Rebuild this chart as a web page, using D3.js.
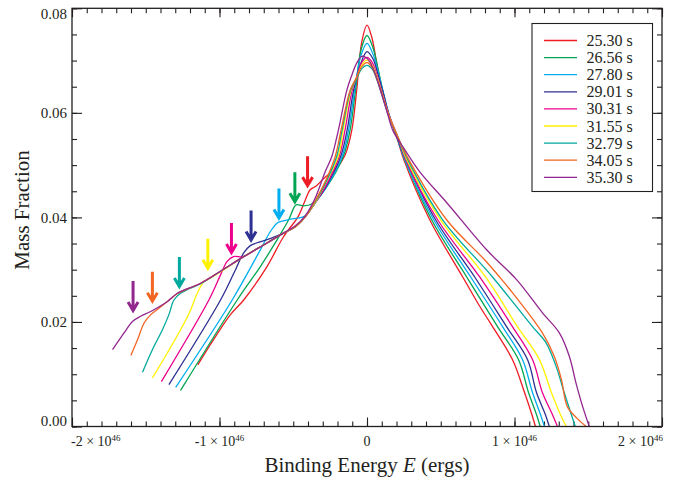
<!DOCTYPE html>
<html>
<head>
<meta charset="utf-8">
<script src="https://cdn.jsdelivr.net/npm/d3@7"></script>
<style>
body { margin: 0; background: #fff; }
text { font-family: "Liberation Serif", "Times New Roman", serif; fill: #231f20; }
</style>
</head>
<body>
<script>
// legend labels and colours, one per time snapshot
var times = ["25.30 s", "26.56 s", "27.80 s", "29.01 s", "30.31 s", "31.55 s", "32.79 s", "34.05 s", "35.30 s"];
var colors = ["#ed1c24", "#00a651", "#00aeef", "#2e3192", "#ec008c", "#fff200", "#00a99d", "#f26522", "#92278f"];

// [binding energy (1e46 ergs), mass fraction]
var s2530 = [[-1.147,0.0118],[-1.061,0.0157],[-0.926,0.0214],[-0.836,0.0242],[-0.678,0.0306],[-0.566,0.0363],[-0.466,0.0402],[-0.419,0.0433],[-0.385,0.0453],[-0.345,0.0460],[-0.284,0.0477],[-0.216,0.0491],[-0.149,0.0519],[-0.103,0.0567],[-0.070,0.0643],[-0.036,0.0735],[0,0.0768],[0.032,0.0745],[0.066,0.0695],[0.101,0.0647],[0.144,0.0601],[0.201,0.0554],[0.250,0.0510],[0.426,0.0395],[0.649,0.0286],[0.764,0.0230],[0.845,0.0194],[0.986,0.0128],[1.068,0.0065],[1.122,0.0019],[1.142,0]];
var s2656 = [[-1.264,0.0069],[-0.880,0.0242],[-0.723,0.0306],[-0.610,0.0357],[-0.532,0.0395],[-0.480,0.0424],[-0.432,0.0422],[-0.372,0.0426],[-0.284,0.0454],[-0.162,0.0516],[-0.115,0.0567],[-0.078,0.0643],[-0.041,0.0720],[0,0.0748],[0.041,0.0724],[0.071,0.0689],[0.105,0.0645],[0.145,0.0598],[0.203,0.0554],[0.257,0.0510],[0.439,0.0395],[0.676,0.0286],[0.885,0.0191],[1.027,0.0128],[1.095,0.0065],[1.149,0.0023],[1.174,0]];
var s2780 = [[-1.297,0.0075],[-0.914,0.0242],[-0.723,0.0338],[-0.655,0.0373],[-0.610,0.0389],[-0.574,0.0393],[-0.507,0.0397],[-0.419,0.0403],[-0.351,0.0428],[-0.284,0.0454],[-0.169,0.0516],[-0.125,0.0567],[-0.084,0.0643],[-0.041,0.0710],[0,0.0733],[0.041,0.0712],[0.074,0.0680],[0.108,0.0642],[0.149,0.0598],[0.203,0.0554],[0.257,0.0510],[0.453,0.0395],[0.703,0.0286],[0.919,0.0191],[1.054,0.0128],[1.122,0.0065],[1.176,0.0023],[1.203,0]];
var s2901 = [[-1.343,0.0080],[-0.993,0.0242],[-0.903,0.0293],[-0.836,0.0332],[-0.791,0.0346],[-0.750,0.0351],[-0.682,0.0357],[-0.566,0.0370],[-0.486,0.0382],[-0.419,0.0401],[-0.351,0.0428],[-0.284,0.0456],[-0.179,0.0516],[-0.135,0.0567],[-0.091,0.0643],[-0.044,0.0693],[0,0.0717],[0.041,0.0703],[0.074,0.0674],[0.108,0.0640],[0.149,0.0596],[0.203,0.0554],[0.264,0.0510],[0.466,0.0395],[0.730,0.0286],[0.946,0.0191],[1.088,0.0128],[1.149,0.0065],[1.209,0.0023],[1.236,0]];
var s3031 = [[-1.394,0.0086],[-1.072,0.0242],[-0.993,0.0290],[-0.948,0.0316],[-0.905,0.0325],[-0.838,0.0325],[-0.757,0.0338],[-0.678,0.0351],[-0.566,0.0370],[-0.486,0.0382],[-0.419,0.0401],[-0.351,0.0428],[-0.284,0.0458],[-0.189,0.0516],[-0.149,0.0567],[-0.101,0.0643],[-0.068,0.0670],[-0.034,0.0697],[0,0.0706],[0.034,0.0697],[0.068,0.0672],[0.101,0.0640],[0.149,0.0596],[0.209,0.0554],[0.264,0.0510],[0.480,0.0395],[0.764,0.0286],[0.986,0.0191],[1.122,0.0128],[1.189,0.0065],[1.257,0.0023],[1.291,0]];
var s3155 = [[-1.455,0.0093],[-1.353,0.0141],[-1.264,0.0185],[-1.196,0.0223],[-1.151,0.0255],[-1.106,0.0277],[-1.061,0.0284],[-0.993,0.0296],[-0.836,0.0325],[-0.678,0.0351],[-0.566,0.0370],[-0.486,0.0382],[-0.419,0.0401],[-0.351,0.0428],[-0.284,0.0464],[-0.196,0.0516],[-0.162,0.0567],[-0.108,0.0643],[-0.071,0.0666],[-0.034,0.0692],[0,0.0701],[0.034,0.0692],[0.068,0.0668],[0.101,0.0638],[0.149,0.0594],[0.209,0.0554],[0.270,0.0510],[0.500,0.0395],[0.804,0.0286],[1.020,0.0191],[1.169,0.0128],[1.250,0.0065],[1.311,0.0023],[1.351,0]];
var s3279 = [[-1.522,0.0104],[-1.455,0.0147],[-1.387,0.0185],[-1.343,0.0214],[-1.309,0.0242],[-1.264,0.0255],[-1.209,0.0263],[-1.128,0.0273],[-0.993,0.0297],[-0.836,0.0325],[-0.678,0.0351],[-0.566,0.0370],[-0.486,0.0382],[-0.419,0.0401],[-0.351,0.0430],[-0.284,0.0464],[-0.206,0.0516],[-0.169,0.0567],[-0.111,0.0643],[-0.074,0.0663],[-0.034,0.0685],[0,0.0691],[0.034,0.0684],[0.068,0.0663],[0.101,0.0634],[0.149,0.0592],[0.209,0.0554],[0.277,0.0510],[0.514,0.0395],[0.851,0.0286],[1.122,0.0191],[1.214,0.0160],[1.282,0.0115],[1.338,0.0064],[1.412,0]];
var s3405 = [[-1.601,0.0136],[-1.556,0.0166],[-1.511,0.0198],[-1.466,0.0214],[-1.426,0.0223],[-1.353,0.0239],[-1.286,0.0254],[-1.128,0.0274],[-0.993,0.0297],[-0.836,0.0325],[-0.678,0.0351],[-0.566,0.0370],[-0.486,0.0382],[-0.419,0.0401],[-0.351,0.0432],[-0.284,0.0468],[-0.216,0.0516],[-0.176,0.0567],[-0.115,0.0643],[-0.074,0.0666],[-0.034,0.0689],[0,0.0696],[0.034,0.0687],[0.068,0.0664],[0.101,0.0636],[0.149,0.0594],[0.209,0.0554],[0.284,0.0510],[0.541,0.0395],[0.797,0.0319],[0.899,0.0286],[0.986,0.0256],[1.189,0.0179],[1.270,0.0134],[1.318,0.0090],[1.358,0.0038],[1.426,0.0015],[1.486,0]];
var s3530 = [[-1.725,0.0147],[-1.647,0.0179],[-1.590,0.0201],[-1.534,0.0211],[-1.466,0.0220],[-1.353,0.0239],[-1.286,0.0255],[-1.128,0.0274],[-0.993,0.0297],[-0.836,0.0325],[-0.678,0.0351],[-0.566,0.0370],[-0.486,0.0384],[-0.419,0.0403],[-0.351,0.0437],[-0.284,0.0487],[-0.239,0.0516],[-0.194,0.0567],[-0.137,0.0643],[-0.103,0.0672],[-0.070,0.0695],[-0.036,0.0708],[-0.007,0.0706],[0.020,0.0697],[0.054,0.0676],[0.095,0.0640],[0.133,0.0605],[0.176,0.0566],[0.257,0.0529],[0.358,0.0487],[0.541,0.0428],[0.811,0.0338],[1.014,0.0281],[1.191,0.0217],[1.304,0.0179],[1.372,0.0134],[1.417,0.0083],[1.461,0.0039],[1.507,0]];
var series = [s2530, s2656, s2780, s2901, s3031, s3155, s3279, s3405, s3530];

// arrows: position of each tip (energy, mass fraction)
var arrowE = [-0.403, -0.489, -0.597, -0.786, -0.919, -1.079, -1.272, -1.455, -1.586];
var arrowM = [0.0456, 0.0425, 0.0394, 0.0352, 0.0328, 0.0298, 0.0263, 0.0235, 0.0217];

// tick labels
var xTickVals = [-2, -1, 0, 1, 2];
var xTickBase = ["-2 \u00d7 10", "-1 \u00d7 10", "0", "1 \u00d7 10", "2 \u00d7 10"];
var xTickExp = ["46", "46", "", "46", "46"];
var yTickVals = [0, 0.02, 0.04, 0.06, 0.08];

var W = 676, H = 477;
var pLeft = 72, pRight = 662, pTop = 8.3, pBottom = 426.5;

var svg = d3.select("body").append("svg")
  .attr("width", W)
  .attr("height", H);

var x = d3.scaleLinear().domain([-2, 2]).range([pLeft, pRight]);
var y = d3.scaleLinear().domain([0, 0.08]).range([pBottom, pTop]);

// minor/major ticks on all four sides, pointing inwards
var minorX = d3.range(-20, 21).map(function(d){ return d / 10; });
var minorY = d3.range(0, 17).map(function(d){ return d * 0.005; });

function ticks(g, axis){
  g.call(axis);
  g.select(".domain").remove();
  g.selectAll("line").attr("stroke", "#231f20").attr("stroke-width", 1.1);
}

svg.append("g").attr("transform", "translate(0," + pBottom + ")")
  .call(ticks, d3.axisBottom(x).tickValues(minorX).tickSize(-5).tickFormat(""));
svg.append("g").attr("transform", "translate(0," + pBottom + ")")
  .call(ticks, d3.axisBottom(x).tickValues(xTickVals).tickSize(-9).tickFormat(""));
svg.append("g").attr("transform", "translate(0," + pTop + ")")
  .call(ticks, d3.axisTop(x).tickValues(minorX).tickSize(-5).tickFormat(""));
svg.append("g").attr("transform", "translate(0," + pTop + ")")
  .call(ticks, d3.axisTop(x).tickValues(xTickVals).tickSize(-9).tickFormat(""));

svg.append("g").attr("transform", "translate(" + pLeft + ",0)")
  .call(ticks, d3.axisLeft(y).tickValues(minorY).tickSize(-5).tickFormat(""));
var yAxis = svg.append("g").attr("transform", "translate(" + pLeft + ",0)")
  .call(ticks, d3.axisLeft(y).tickValues(yTickVals).tickSize(-10).tickPadding(5).tickFormat(d3.format(".2f")));
yAxis.selectAll("text")
  .style("font-family", "'Liberation Serif', 'Times New Roman', serif")
  .style("font-size", "15px")
  .attr("fill", "#231f20")
  // end labels are nudged inside the frame
  .attr("dy", function(d, i){
    if(i == 0) return "-0.05em";
    if(i == yTickVals.length - 1) return "0.65em";
    return "0.32em";
  });
svg.append("g").attr("transform", "translate(" + pRight + ",0)")
  .call(ticks, d3.axisRight(y).tickValues(minorY).tickSize(-5).tickFormat(""));
svg.append("g").attr("transform", "translate(" + pRight + ",0)")
  .call(ticks, d3.axisRight(y).tickValues(yTickVals).tickSize(-10).tickFormat(""));

// x tick labels with superscript exponent
var xl = svg.append("g").selectAll("text")
  .data(xTickVals)
  .enter()
  .append("text")
  .attr("x", function(d, i){
    if(i == 0) return x(d) - 1;
    if(i == xTickVals.length - 1) return x(d) + 1;
    return x(d);
  })
  .attr("y", pBottom + 19)
  .attr("text-anchor", function(d, i){
    if(i == 0) return "start";
    if(i == xTickVals.length - 1) return "end";
    return "middle";
  })
  .style("font-size", "14px");
xl.append("tspan").text(function(d, i){ return xTickBase[i]; });
xl.append("tspan")
  .attr("dy", -5)
  .style("font-size", "9px")
  .text(function(d, i){ return xTickExp[i]; });

// curves
var line = d3.line()
  .x(function(d){ return x(d[0]); })
  .y(function(d){ return y(d[1]); })
  .curve(d3.curveCatmullRom.alpha(0.5));

svg.append("g").selectAll("path")
  .data(series)
  .enter()
  .append("path")
  .attr("d", line)
  .attr("fill", "none")
  .attr("stroke", function(d, i){ return colors[i]; })
  .attr("stroke-width", 1.3);

// arrows pointing at the shoulders
var arrows = svg.append("g").selectAll("g")
  .data(arrowE)
  .enter()
  .append("g")
  .attr("transform", function(d, i){
    return "translate(" + x(d) + "," + (y(arrowM[i]) - 1) + ")";
  });
arrows.append("path")
  .attr("d", "M0,-31L0,-2M-5,-10L0,-1.5L5,-10")
  .attr("fill", "none")
  .attr("stroke", function(d, i){ return colors[i]; })
  .attr("stroke-width", 3)
  .attr("stroke-linejoin", "miter");

// frame
svg.append("rect")
  .attr("x", pLeft)
  .attr("y", pTop)
  .attr("width", pRight - pLeft)
  .attr("height", pBottom - pTop)
  .attr("fill", "none")
  .attr("stroke", "#231f20")
  .attr("stroke-width", 1.3);

// legend
var lg = svg.append("g");
lg.append("rect")
  .attr("x", 532)
  .attr("y", 23.5)
  .attr("width", 120.5)
  .attr("height", 168)
  .attr("fill", "#fff")
  .attr("stroke", "#231f20")
  .attr("stroke-width", 1.1);
var items = lg.selectAll("g.item")
  .data(times)
  .enter()
  .append("g")
  .attr("class", "item")
  .attr("transform", function(d, i){ return "translate(0," + (40.5 + i * 17.1) + ")"; });
items.append("line")
  .attr("x1", 544).attr("x2", 577)
  .attr("stroke", function(d, i){ return colors[i]; })
  .attr("stroke-width", 1.3);
items.append("text")
  .attr("x", 586.5)
  .attr("y", 5.5)
  .style("font-size", "16px")
  .text(function(d){ return d; });

// axis titles
svg.append("text")
  .attr("transform", "translate(29,210) rotate(-90)")
  .attr("text-anchor", "middle")
  .style("font-size", "21px")
  .text("Mass Fraction");

var xt = svg.append("text")
  .attr("x", 367)
  .attr("y", 472)
  .attr("text-anchor", "middle")
  .style("font-size", "21px");
xt.append("tspan").text("Binding Energy ");
xt.append("tspan").style("font-style", "italic").text("E");
xt.append("tspan").text(" (ergs)");
</script>
</body>
</html>
